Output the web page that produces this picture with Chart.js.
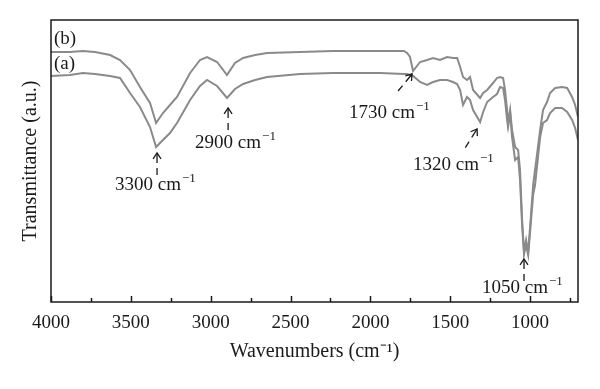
<!DOCTYPE html>
<html>
<head>
<meta charset="utf-8">
<script src="https://cdn.jsdelivr.net/npm/chart.js@4.4.1/dist/chart.umd.min.js"></script>
<style>
  html, body { margin: 0; padding: 0; background: #fff; }
  canvas { display: block; }
</style>
</head>
<body>
<canvas id="irChart" width="600" height="389"></canvas>
<script>
// FTIR spectra, wavenumber (cm-1) vs transmittance (a.u.)
const wavenumbers = [4000, 3881, 3800, 3724, 3630, 3568, 3505, 3443, 3380, 3342, 3299, 3255, 3211, 3129, 3067, 3023,
    2960, 2898, 2848, 2797, 2722, 2647, 2441, 2234, 1939, 1790, 1770, 1752, 1733, 1689, 1645, 1608, 1564, 1520, 1482, 1457,
    1438, 1420, 1395, 1376, 1357, 1313, 1294, 1269, 1232, 1207, 1188, 1169, 1157, 1144, 1138, 1125, 1113, 1094, 1075,
    1063, 1050, 1038, 1025, 1012, 1000, 981, 969, 937, 919, 894, 875, 843, 800, 768, 737, 718, 700];

const seriesB = [250, 250, 251, 250, 247, 242, 232, 215, 199, 179, 189, 197, 205, 229, 242, 245,
    240, 227, 239, 244, 247, 249, 250, 251, 251, 251, 249, 245, 231, 240, 242, 244, 242, 245, 244, 244,
    235, 225, 222, 225, 212, 204, 209, 212, 219, 224, 225, 224, 212, 192, 179, 192, 172, 155, 152,
    132, 82, 50, 62, 50, 75, 117, 132, 172, 192, 200, 209, 214, 215, 214, 205, 197, 185];

const seriesA = [226, 227, 229, 228, 226, 224, 209, 195, 175, 155, 162, 169, 179, 202, 216, 222,
    216, 204, 213, 218, 222, 225, 228, 229, 229, 228, 228, 227, 226, 220, 217, 220, 222, 222, 220, 218,
    212, 197, 205, 202, 192, 180, 190, 200, 205, 208, 215, 214, 202, 182, 175, 189, 165, 142, 145,
    122, 77, 48, 57, 47, 70, 107, 117, 165, 179, 182, 189, 194, 194, 190, 182, 174, 162];

const xTicks = [4000, 3500, 3000, 2500, 2000, 1500, 1000];
const xMinorTicks = [3750, 3250, 2750, 2250, 1750, 1250, 750];

// peak markers
const peakLabels = ["3300", "2900", "1730", "1320", "1050"];
const peakTipX = [3336, 2891, 1739, 1332, 1038];
const peakTipY = [149, 194, 228, 173, 43];
const curveNames = ["(b)", "(a)"];

const serif = '"Liberation Serif", "Times New Roman", serif';
const ink = "#1a1a1a";

// arrow direction (tail -> tip) and label offset from the tip, in pixels
const arrowDirs = [[0, -1], [0, -1], [0.636, -0.772], [0.534, -0.846], [0, -1]];
const labelOffsets = [[-42, 37], [-33, 40], [-63, 44], [-64, 41], [-42, 34]];

const annotate = {
    id: "annotate",
    afterDatasetsDraw(chart) {
        const { ctx, chartArea: a, scales: { x, y } } = chart;
        ctx.save();

        // frame
        ctx.strokeStyle = ink;
        ctx.lineWidth = 1.5;
        ctx.strokeRect(a.left, a.top, a.right - a.left, a.bottom - a.top);

        // inward ticks on the bottom axis
        ctx.beginPath();
        xTicks.forEach(v => {
            const px = Math.round(x.getPixelForValue(v)) + 0.5;
            ctx.moveTo(px, a.bottom);
            ctx.lineTo(px, a.bottom - 6);
        });
        xMinorTicks.forEach(v => {
            const px = Math.round(x.getPixelForValue(v)) + 0.5;
            ctx.moveTo(px, a.bottom);
            ctx.lineTo(px, a.bottom - 4);
        });
        ctx.stroke();

        ctx.fillStyle = ink;
        ctx.textBaseline = "alphabetic";
        ctx.textAlign = "left";

        // curve names
        ctx.font = "19px " + serif;
        ctx.fillText(curveNames[0], a.left + 3, 44);
        ctx.fillText(curveNames[1], a.left + 3, 69);

        // arrows and labels
        ctx.lineWidth = 1.3;
        peakLabels.forEach((label, i) => {
            const tx = x.getPixelForValue(peakTipX[i]);
            const ty = y.getPixelForValue(peakTipY[i]);
            const [dx, dy] = arrowDirs[i];
            const len = 22;

            // dashed shaft
            ctx.setLineDash([10, 5]);
            ctx.beginPath();
            ctx.moveTo(tx, ty);
            ctx.lineTo(tx - dx * len, ty - dy * len);
            ctx.stroke();
            ctx.setLineDash([]);

            // open arrow head
            const back = Math.atan2(-dy, -dx);
            ctx.beginPath();
            ctx.moveTo(tx + Math.cos(back - 0.6) * 7, ty + Math.sin(back - 0.6) * 7);
            ctx.lineTo(tx, ty);
            ctx.lineTo(tx + Math.cos(back + 0.6) * 7, ty + Math.sin(back + 0.6) * 7);
            ctx.stroke();

            // label text with superscript
            const lx = tx + labelOffsets[i][0];
            const ly = ty + labelOffsets[i][1];
            ctx.font = "19px " + serif;
            const main = label + " cm";
            ctx.fillText(main, lx, ly);
            const w = ctx.measureText(main).width;
            ctx.font = "13px " + serif;
            ctx.fillText("\u22121", lx + w + 1, ly - 8);
        });

        ctx.restore();
    }
};

new Chart(document.getElementById("irChart").getContext("2d"), {
    type: "line",
    data: {
        datasets: [
            {
                label: "(b)",
                data: wavenumbers.map((wn, i) => ({ x: wn, y: seriesB[i] })),
                borderColor: "#8a8a8a",
                borderWidth: 2,
                pointRadius: 0,
                tension: 0
            },
            {
                label: "(a)",
                data: wavenumbers.map((wn, i) => ({ x: wn, y: seriesA[i] })),
                borderColor: "#8a8a8a",
                borderWidth: 2,
                pointRadius: 0,
                tension: 0
            }
        ]
    },
    options: {
        responsive: false,
        animation: false,
        layout: { padding: { top: 20, right: 22, left: 0, bottom: 0 } },
        plugins: {
            legend: { display: false },
            tooltip: { enabled: false }
        },
        scales: {
            x: {
                type: "linear",
                min: 700,
                max: 4000,
                reverse: true,
                grid: { display: false, drawTicks: false },
                border: { display: false },
                afterBuildTicks: axis => { axis.ticks = xTicks.map(v => ({ value: v })); },
                afterFit: axis => { axis.height = 87; },
                ticks: {
                    color: ink,
                    padding: 10,
                    maxRotation: 0,
                    font: { family: serif, size: 19 },
                    callback: value => String(value)
                },
                title: {
                    display: true,
                    text: "Wavenumbers (cm\u207B\u00B9)",
                    color: ink,
                    padding: { top: 0, bottom: 25 },
                    font: { family: serif, size: 20 }
                }
            },
            y: {
                min: 0,
                max: 282,
                grid: { display: false, drawTicks: false },
                border: { display: false },
                ticks: { display: false },
                afterFit: axis => { axis.width = 51; },
                title: {
                    display: true,
                    text: "Transmittance (a.u.)",
                    color: ink,
                    padding: { top: 19, bottom: 0 },
                    font: { family: serif, size: 20 }
                }
            }
        }
    },
    plugins: [annotate]
});
</script>
</body>
</html>
